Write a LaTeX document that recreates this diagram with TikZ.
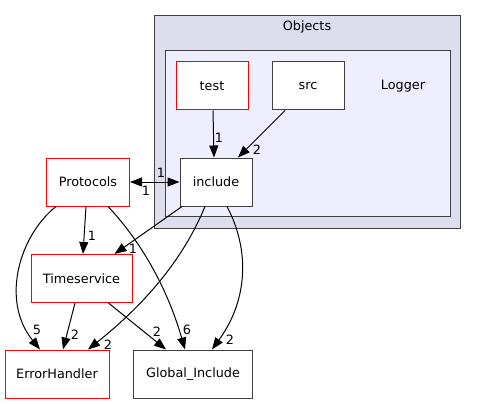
\documentclass[tikz,border=0pt]{standalone}
\usepackage{fontspec}
\setmainfont{DejaVu Sans}
\usetikzlibrary{arrows.meta}
\definecolor{clouter}{HTML}{DDDDEE}
\definecolor{clinner}{HTML}{EEEEFF}
\definecolor{bord}{HTML}{404040}
\begin{document}
\begin{tikzpicture}[x=1pt,y=-1pt,
  every node/.style={font=\fontsize{12.8}{14}\selectfont, inner sep=0pt},
  dirbox/.style={draw=bord, fill=white, line width=1pt, minimum height=48pt},
  redbox/.style={draw=red, fill=white, line width=1pt, minimum height=48pt},
  edge/.style={draw=black, line width=1pt, -{Triangle[length=12pt,width=9pt]}},
  lbl/.style={font=\fontsize{12.8}{14}\selectfont}]
\useasboundingbox (0,0) rectangle (477,404);
% clusters
\draw[fill=clouter, draw=bord, line width=1pt] (154,16) rectangle (460,228);
\node at (307,27) {Objects};
\draw[fill=clinner, draw=bord, line width=1pt] (165,51) rectangle (450,216);
\node (loggerlbl) at (403,86) {Logger};
% nodes
\node[redbox, minimum width=72pt] (test) at (212,86) {test};
\node[dirbox, minimum width=72pt] (src) at (308,86) {src};
\node[dirbox, minimum width=72pt] (include) at (216,182) {include};
\node[redbox, minimum width=83pt] (protocols) at (88,182) {Protocols};
\node[redbox, minimum width=101pt] (timeservice) at (81.5,278.5) {Timeservice};
\node[redbox, minimum width=104pt] (errorhandler) at (57,374) {ErrorHandler};
\node[dirbox, minimum width=119pt] (global) at (193,374) {Global\_Include};
% edges
\draw[edge] ([xshift=1pt]test.south) -- ([xshift=-2pt]include.north);
\node[lbl] (l1) at (219,138) {1};
\draw[edge] ([xshift=-23pt]src.south) -- ([xshift=22pt]include.north);
\node[lbl] (l2) at (257,150) {2};
\draw[edge, {Triangle[length=12pt,width=9pt]}-{Triangle[length=12pt,width=9pt]}] (protocols.east) -- (include.west);
\node[lbl] (l3) at (161,173) {1};
\node[lbl] (l4) at (146,191) {1};
\draw[edge] ([xshift=-2pt]protocols.south) -- ([xshift=1.5pt]timeservice.north);
\node[lbl] (l5) at (92,236) {1};
\draw[edge] ([xshift=-32pt]protocols.south) .. controls (20,235) and (0,300) .. ([xshift=-17pt]errorhandler.north);
\node[lbl] (l6) at (37,330) {5};
\draw[edge] ([xshift=20pt]protocols.south) .. controls (135,235) and (165,280) .. ([xshift=-8pt]global.north);
\node[lbl] (l7) at (187,330) {6};
\draw[edge] ([xshift=-34pt]include.south) -- ([xshift=33pt]timeservice.north);
\node[lbl] (l8) at (133,249) {1};
\draw[edge] ([xshift=-11pt]include.south) .. controls (185,255) and (150,300) .. ([xshift=31pt]errorhandler.north);
\node[lbl] (l9) at (108,345) {2};
\draw[edge] ([xshift=11pt]include.south) .. controls (250,250) and (248,300) .. ([xshift=19pt]global.north);
\node[lbl] (l10) at (230,340) {2};
\draw[edge] ([xshift=-6.5pt]timeservice.south) -- ([xshift=6pt]errorhandler.north);
\node[lbl] (l11) at (75,335) {2};
\draw[edge] ([xshift=27pt]timeservice.south) -- ([xshift=-27pt]global.north);
\node[lbl] (l12) at (157,332) {2};
\end{tikzpicture}
\end{document}
